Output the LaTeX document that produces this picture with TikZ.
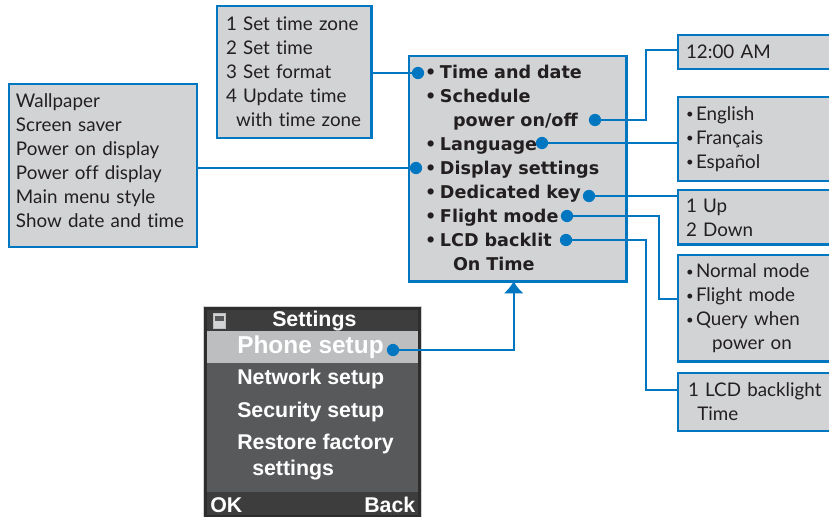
\documentclass[tikz,border=0pt]{standalone}
\usepackage{fontspec}
\usepackage{graphicx}
\setmainfont[Ligatures=NoCommon]{Lato}
\newfontfamily\phonefont{Liberation Sans}
\newfontfamily\menufont{DejaVu Sans}
\usepackage{tikz}
\usetikzlibrary{arrows.meta}
\definecolor{wireblue}{HTML}{0077C0}
\definecolor{boxgrey}{HTML}{D1D3D4}
\definecolor{inkdark}{HTML}{231F20}
\definecolor{phoneedge}{HTML}{2E2E2F}
\definecolor{phonebar}{HTML}{3D3D3E}
\definecolor{phonebody}{HTML}{58595B}
\definecolor{phonesel}{HTML}{BCBEC0}
\tikzset{
  menubox/.style={draw=wireblue,fill=boxgrey,line width=1.9pt,anchor=north west,align=left,outer sep=0pt,
    inner xsep=6pt,inner ysep=0pt,text=inkdark,font=\fontsize{14.1}{18}\selectfont},
  wire/.style={draw=wireblue,line width=1.5pt},
  dot/.style={circle,fill=wireblue,inner sep=0pt,minimum size=9.2pt},
  phonerow/.style={anchor=west,inner sep=0pt,text=white,font=\phonefont\bfseries\fontsize{16}{18}\selectfont},
}
\newcommand{\bul}{\makebox[11.25pt][l]{\textbullet}}
\newcommand{\sbul}{\makebox[7.5pt][l]{\raisebox{1.1pt}{\scalebox{.7}{\textbullet}}}}
\begin{document}
\begin{tikzpicture}[x=0.75pt,y=-0.75pt]
\clip (0,0) rectangle (829,517);
\node[menubox,text width=130.5pt,minimum height=122.2pt,inner xsep=5.25pt] (boxDisplay) at (9,84)
  {Wallpaper\\Screen saver\\Power on display\\Power off display\\Main menu style\\Show date and time\\[-10pt]\mbox{}};
\node[menubox,text width=102.5pt,minimum height=99pt,inner xsep=6.75pt] (boxTime) at (217,6)
  {1 Set time zone\\2 Set time\\3 Set format\\4 Update time\\\hspace*{7.5pt}\makebox[0pt][l]{with time zone}};
\node[menubox,text width=139pt,minimum height=169pt,inner xsep=12pt,font=\menufont\bfseries\fontsize{13.2}{18}\selectfont] (boxMain) at (409,56)
  {\bul Time and date\\\bul Schedule\\\hspace*{21pt}power on/off\\\bul Language\\\bul Display settings\\\bul Dedicated key\\\bul Flight mode\\\bul LCD backlit\\\hspace*{21pt}On Time\\[-16.5pt]\mbox{}};
\node[menubox,text width=113pt,minimum height=25.5pt] (boxClock) at (678,35) {12:00 AM};
\node[menubox,text width=113pt,minimum height=63pt] (boxLang) at (678,97)
  {\sbul English\\\sbul Français\\\sbul Español};
\node[menubox,text width=113pt,minimum height=41pt] (boxKey) at (678,190) {1 Up\\2 Down};
\node[menubox,text width=113pt,minimum height=80pt] (boxFlight) at (678,255)
  {\sbul Normal mode\\\sbul Flight mode\\\sbul Query when\\\hspace*{19.5pt}power on};
\node[menubox,text width=113pt,minimum height=43.5pt,inner xsep=7.5pt] (boxBacklight) at (678,373)
  {1 LCD backlight\\\hspace*{7pt}Time};

\node[fill=phoneedge,draw=phonesel!70!white,line width=0.5pt,anchor=north west,outer sep=0pt,inner sep=0pt,minimum width=164pt,minimum height=170pt] (phoneFrame) at (203,306) {};
\node[fill=phonebar,anchor=north west,outer sep=0pt,inner sep=0pt,minimum width=158pt,minimum height=154pt] (phoneBar) at (207,310) {};
\node[fill=phonebody,anchor=north west,outer sep=0pt,inner sep=0pt,minimum width=158pt,minimum height=121pt] (phoneBody) at (207,331) {};
\node[fill=phonesel,anchor=north west,outer sep=0pt,inner sep=0pt,minimum width=158pt,minimum height=24pt] (phoneSel) at (207,331) {};
\node[fill=boxgrey,draw=phonesel,line width=0.5pt,anchor=north west,inner sep=0pt,minimum width=9pt,minimum height=11pt] (phoneIcon) at (213,313) {};
\fill[phonebody] (215,316) rectangle (224,321);
\node[phonerow] (rowTitle) at (272,321) {Settings};
\node[phonerow,font=\phonefont\bfseries\fontsize{18.3}{18}\selectfont] (rowPhone) at (237,347) {Phone setup};
\node[phonerow] (rowNetwork) at (237,379) {Network setup};
\node[phonerow] (rowSecurity) at (237,412) {Security setup};
\node[phonerow] (rowRestore) at (237,444) {Restore factory};
\node[phonerow] (rowSettings) at (252,470) {settings};
\node[phonerow] (rowOk) at (210,505) {OK};
\node[phonerow] (rowBack) at (364,505) {Back};

\node[dot] (dotTime) at (418,73) {};
\node[dot] (dotDisplay) at (416,168) {};
\node[dot] (dotSched) at (595,120) {};
\node[dot] (dotLang) at (542,143) {};
\node[dot] (dotKey) at (589,196) {};
\node[dot] (dotFlight) at (567,216) {};
\node[dot] (dotBacklit) at (566,240) {};
\node[dot] (dotPhone) at (393,350) {};

\draw[wire] (boxTime.east |- dotTime) -- (dotTime);
\draw[wire] (boxDisplay.east |- dotDisplay) -- (dotDisplay);
\draw[wire] (dotSched) -- ++(51,0) |- ([yshift=1.5pt]boxClock.west);
\draw[wire] (dotLang) -- (dotLang -| boxLang.west);
\draw[wire] (dotKey) -- (dotKey -| boxKey.west);
\draw[wire] (dotFlight) -- ++(92,0) |- ([yshift=7pt]boxFlight.west);
\draw[wire] (dotBacklit) -- ++(80,0) |- ([yshift=9pt]boxBacklight.west);
\draw[wire,-{Latex[length=9pt,width=15pt]}] (dotPhone) -| ([xshift=-3pt]boxMain.south);
\end{tikzpicture}
\end{document}
